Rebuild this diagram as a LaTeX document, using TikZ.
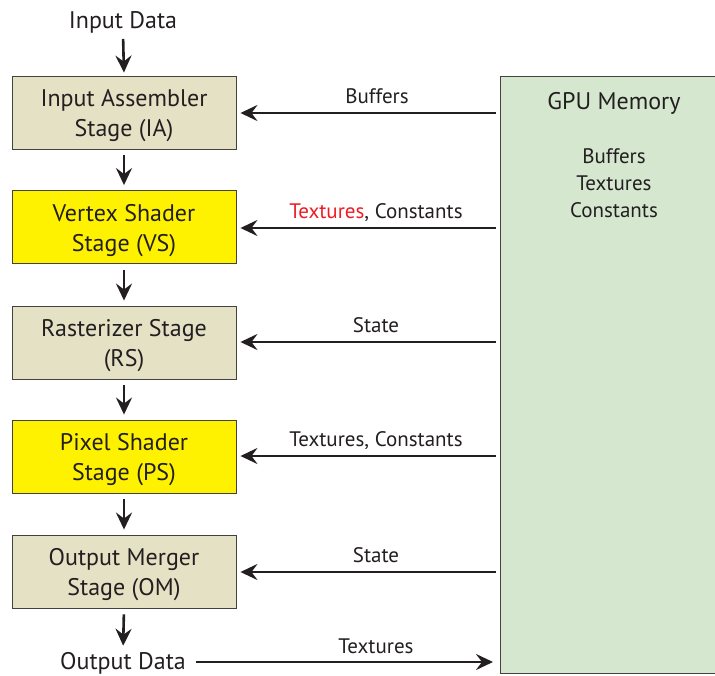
\documentclass[tikz,border=0pt]{standalone}
\usepackage{fontspec}
\setmainfont{PT Sans}
\usetikzlibrary{arrows.meta,calc}
\definecolor{inkc}{HTML}{231F20}
\definecolor{stagebeige}{HTML}{E5E1C5}
\definecolor{stageyellow}{HTML}{FFF200}
\definecolor{memgreen}{HTML}{D5E8CF}
\definecolor{hired}{HTML}{ED1C24}
% extra room above the first line of a stage name
\newcommand\uplift{\rule{0pt}{24pt}}
\tikzset{
  stagebox/.style={draw=inkc!85, line width=0.9pt, minimum width=224pt, minimum height=73pt,
    align=center, inner sep=0pt, font=\fontsize{24}{30}\selectfont, text=inkc},
  plain/.style={fill=stagebeige},
  shader/.style={fill=stageyellow},
  flow/.style={line width=2.6pt, draw=inkc, -{Stealth[length=17pt,width=16pt,inset=6pt]}},
  lbl/.style={anchor=base, inner sep=0pt, font=\fontsize{21}{24}\selectfont, text=inkc},
  endtxt/.style={anchor=base, inner sep=0pt, font=\fontsize{24}{28}\selectfont, text=inkc},
}
\begin{document}
\begin{tikzpicture}[x=1pt,y=-1pt]
\useasboundingbox (0,0) rectangle (715,675);
% memory block on the right, running past the page edge
\node[draw=inkc!85, line width=0.9pt, fill=memgreen, anchor=north west, minimum width=220pt,
      minimum height=597pt, inner sep=0pt] (gpu) at (500,76) {};
\node[endtxt] (gputitle) at (614,109) {GPU Memory};
\node[anchor=base, inner sep=0pt, font=\fontsize{21}{27}\selectfont, text=inkc, align=center] (gpulist) at (614,217)
  {Buffers\\Textures\\Constants};

% pipeline stages
\node[stagebox, plain]  (ia) at (124,112.5) {\uplift Input Assembler\\Stage (IA)};
\node[stagebox, shader] (vs) at (124,227)   {\uplift Vertex Shader\\Stage (VS)};
\node[stagebox, plain]  (rs) at (124,342.5) {\uplift Rasterizer Stage\\(RS)};
\node[stagebox, shader] (ps) at (124,456.5) {\uplift Pixel Shader\\Stage (PS)};
\node[stagebox, plain]  (om) at (124,571.5) {\uplift Output Merger\\Stage (OM)};

\node[endtxt] (in)  at (123,28)  {Input Data};
\node[endtxt] (out) at (123,669) {Output Data};

% vertical data flow
\draw[flow, shorten <=6pt, shorten >=3pt] (in.south) -- (ia.north);
\draw[flow, shorten <=6pt, shorten >=5pt] (ia) -- (vs);
\draw[flow, shorten <=6pt, shorten >=5pt] (vs) -- (rs);
\draw[flow, shorten <=6pt, shorten >=5pt] (rs) -- (ps);
\draw[flow, shorten <=6pt, shorten >=5pt] (ps) -- (om);
\draw[flow, shorten <=6pt, shorten >=6pt] (om.south) -- (out.north);

% memory reads
\draw[flow, shorten <=4pt, shorten >=4pt] (gpu.west |- 0,113) -- (ia.east |- 0,113);
\draw[flow, shorten <=4pt, shorten >=4pt] (gpu.west |- 0,228) -- (vs.east |- 0,228);
\draw[flow, shorten <=4pt, shorten >=4pt] (gpu.west |- 0,342) -- (rs.east |- 0,342);
\draw[flow, shorten <=4pt, shorten >=4pt] (gpu.west |- 0,456) -- (ps.east |- 0,456);
\draw[flow, shorten <=4pt, shorten >=4pt] (gpu.west |- 0,572) -- (om.east |- 0,572);

\node[lbl] (l1) at (377,103.5) {Buffers};
\node[lbl] (l2) at (376,218.5) {\textcolor{hired}{Textures}, Constants};
\node[lbl] (l3) at (376,332.5) {State};
\node[lbl] (l4) at (376,446.5) {Textures, Constants};
\node[lbl] (l5) at (376,562.5) {State};

% memory write
\draw[flow, shorten <=10pt, shorten >=7pt] (out.east |- 0,662) -- (gpu.west |- 0,662);
\node[lbl] (l6) at (376,653.5) {Textures};
\end{tikzpicture}
\end{document}
